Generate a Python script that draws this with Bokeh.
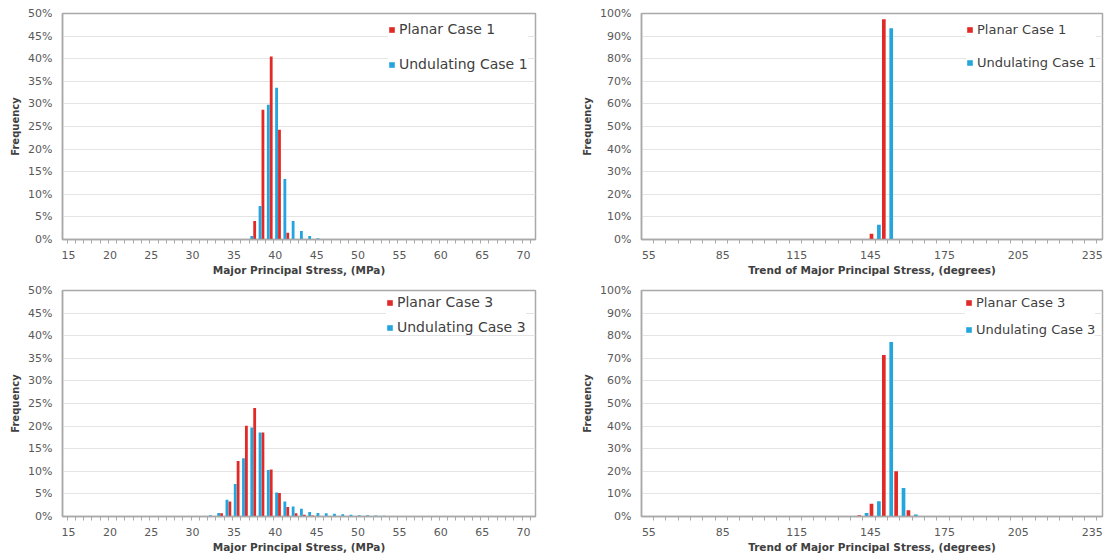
from bokeh.plotting import figure
from bokeh.layouts import row, column
from bokeh.models import Range1d, FixedTicker, PrintfTickFormatter, Legend, LegendItem
from bokeh.embed import file_html
from bokeh.resources import INLINE

RED = "#E12A27"
BLUE = "#25A5DD"
GREY = "#a9a9a9"
FONT = "DejaVu Sans"

# Major principal stress magnitude (MPa), % of samples per 1 MPa bin
stress_bins_1 = [37, 38, 39, 40, 41, 42, 43, 44, 45]
stress_planar_1 = [0.0, 4.1, 28.7, 40.5, 24.3, 1.5, 0.0, 0.0, 0.0]
stress_undul_1 = [0.8, 7.4, 29.8, 33.6, 13.4, 4.1, 1.9, 0.8, 0.3]

stress_bins_3 = [32, 33, 34, 35, 36, 37, 38, 39, 40, 41, 42, 43,
                 44, 45, 46, 47, 48, 49, 50, 51, 52, 53, 54]
stress_planar_3 = [0.0, 0.0, 0.7, 3.3, 12.3, 20.1, 24.0, 18.6, 10.4, 5.2, 2.1, 0.7,
                   0.4, 0.2, 0.0, 0.0, 0.0, 0.0, 0.0, 0.0, 0.0, 0.0, 0.0]
stress_undul_3 = [0.3, 0.8, 3.7, 7.2, 12.9, 19.7, 18.6, 10.3, 5.3, 3.3, 2.2, 1.7,
                  1.0, 0.8, 0.7, 0.6, 0.5, 0.4, 0.3, 0.25, 0.2, 0.15, 0.1]

# Trend of major principal stress (degrees), % of samples per 5 degree bin
trend_bins_1 = [145, 150]
trend_planar_1 = [2.5, 97.5]
trend_undul_1 = [6.5, 93.5]

trend_bins_3 = [130, 135, 140, 145, 150, 155, 160]
trend_planar_3 = [0.0, 0.0, 0.5, 5.6, 71.5, 20.0, 2.8]
trend_undul_3 = [0.2, 0.0, 1.6, 6.8, 77.2, 12.6, 0.9]

stress_labels = list(range(15, 71, 5))
trend_labels = list(range(55, 236, 30))


def panel(bins, planar, undul, names, kind, width, height, borders,
          legend_at, legend_gap, legend_size):
    if kind == "stress":
        xr = Range1d(14.27, 71.45)
        yr = Range1d(0, 50)
        yticks = list(range(0, 51, 5))
        off_r, off_b, w = -0.50, 0.15, 0.34
        majors = stress_labels
        minors = [c - 0.175 for c in range(15, 72)]
        xtitle = "Major Principal Stress, (MPa)"
    else:
        xr = Range1d(52.0, 239.2)
        yr = Range1d(0, 100)
        yticks = list(range(0, 101, 10))
        off_r, off_b, w = 0.4, 3.4, 1.5
        majors = trend_labels
        minors = [c + 1.9 for c in range(50, 240, 5)]
        xtitle = "Trend of Major Principal Stress, (degrees)"

    left, right, top, bottom = borders
    p = figure(width=width, height=height, x_range=xr, y_range=yr, title=None,
               output_backend="svg", toolbar_location=None,
               min_border_left=left, min_border_right=right,
               min_border_top=top, min_border_bottom=bottom)
    p.outline_line_color = GREY
    p.outline_line_width = 1.5
    p.background_fill_color = "white"

    p.xgrid.visible = False
    p.ygrid.ticker = FixedTicker(ticks=yticks)
    p.ygrid.grid_line_color = "#e4e4e4"
    p.ygrid.grid_line_width = 1

    r1 = p.vbar(x=[c + off_r for c in bins], top=planar, width=w,
                fill_color=RED, line_color=None)
    r2 = p.vbar(x=[c + off_b for c in bins], top=undul, width=w,
                fill_color=BLUE, line_color=None)

    xa = p.xaxis[0]
    xa.ticker = FixedTicker(ticks=majors, minor_ticks=minors)
    xa.major_tick_line_color = None
    xa.major_tick_out = 0
    xa.major_tick_in = 0
    xa.minor_tick_line_color = GREY
    xa.minor_tick_out = 4
    xa.minor_tick_in = 0
    xa.axis_line_color = GREY
    xa.axis_line_width = 1.5
    xa.major_label_standoff = 7
    xa.major_label_text_font = FONT
    xa.major_label_text_font_size = "11px"
    xa.major_label_text_color = "#595959"
    xa.axis_label = xtitle
    xa.axis_label_text_font = FONT
    xa.axis_label_text_font_style = "bold"
    xa.axis_label_text_font_size = "10.5px"
    xa.axis_label_text_color = "#404040"
    xa.axis_label_standoff = 2

    ya = p.yaxis[0]
    ya.ticker = FixedTicker(ticks=yticks)
    ya.formatter = PrintfTickFormatter(format="%d%%")
    ya.major_tick_line_color = None
    ya.minor_tick_line_color = None
    ya.major_tick_out = 0
    ya.axis_line_color = GREY
    ya.axis_line_width = 1.5
    ya.major_label_standoff = 10
    ya.major_label_text_font = FONT
    ya.major_label_text_font_size = "11px"
    ya.major_label_text_color = "#595959"
    ya.axis_label = "Frequency"
    ya.axis_label_text_font = FONT
    ya.axis_label_text_font_style = "bold"
    ya.axis_label_text_font_size = "10px"
    ya.axis_label_text_color = "#404040"
    ya.axis_label_standoff = 4

    legend = Legend(items=[LegendItem(label=names[0], renderers=[r1]),
                           LegendItem(label=names[1], renderers=[r2])],
                    location=legend_at, orientation="vertical",
                    glyph_width=7, glyph_height=7, label_height=16,
                    label_standoff=4, spacing=legend_gap, padding=6, margin=0,
                    label_text_font=FONT, label_text_font_size=legend_size,
                    label_text_color="#404040",
                    border_line_color=None, background_fill_color="white",
                    background_fill_alpha=1.0)
    p.add_layout(legend)
    return p


p1 = panel(stress_bins_1, stress_planar_1, stress_undul_1,
           ["Planar Case 1", "Undulating Case 1"], "stress",
           556, 278, (62, 21, 13, 39), (326, 167), 19, "14px")
p2 = panel(trend_bins_1, trend_planar_1, trend_undul_1,
           ["Planar Case 1", "Undulating Case 1"], "trend",
           557, 278, (85, 11, 13, 39), (325, 169), 17, "13px")
p3 = panel(stress_bins_3, stress_planar_3, stress_undul_3,
           ["Planar Case 3", "Undulating Case 3"], "stress",
           556, 277, (62, 21, 12, 38), (324, 181), 9, "14px")
p4 = panel(trend_bins_3, trend_planar_3, trend_undul_3,
           ["Planar Case 3", "Undulating Case 3"], "trend",
           557, 277, (85, 11, 12, 38), (324, 179), 11, "13px")

layout = column(row(p1, p2), row(p3, p4))
open("out.html", "w").write(file_html(layout, INLINE))
